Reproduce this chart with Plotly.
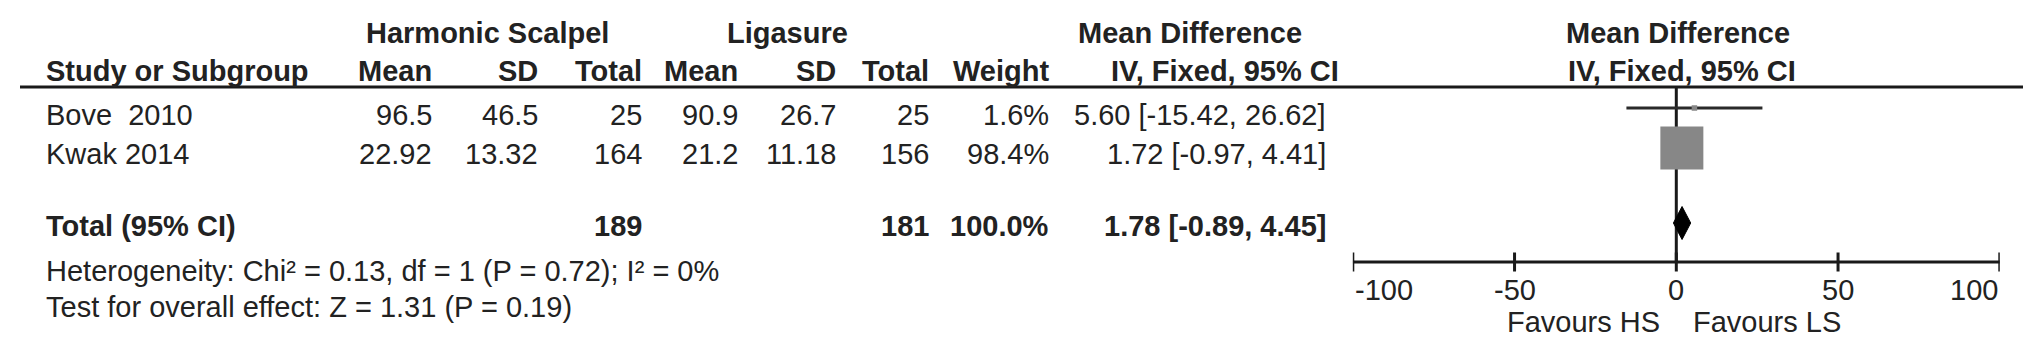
import plotly.graph_objects as go

# ---------------- data ----------------
studies = ["Bove  2010", "Kwak 2014"]
hs_mean = [96.5, 22.92]
hs_sd = [46.5, 13.32]
hs_total = [25, 164]
lg_mean = [90.9, 21.2]
lg_sd = [26.7, 11.18]
lg_total = [25, 156]
weights = [1.6, 98.4]
md = [5.60, 1.72]
ci_lo = [-15.42, -0.97]
ci_hi = [26.62, 4.41]

total_label = "Total (95% CI)"
total_hs = 189
total_lg = 181
total_weight = 100.0
total_md = 1.78
total_lo = -0.89
total_hi = 4.45

heterogeneity = "Heterogeneity: Chi² = 0.13, df = 1 (P = 0.72); I² = 0%"
overall = "Test for overall effect: Z = 1.31 (P = 0.19)"

x_ticks = [-100, -50, 0, 50, 100]
favours = ["Favours HS", "Favours LS"]

group_headers = ["Harmonic Scalpel", "Ligasure", "Mean Difference", "Mean Difference"]
col_headers = ["Study or Subgroup", "Mean", "SD", "Total", "Mean", "SD", "Total", "Weight",
               "IV, Fixed, 95% CI", "IV, Fixed, 95% CI"]

# ---------------- layout constants (pixels) ----------------
W, H = 2031, 338
FONT = "Liberation Sans, Arial, sans-serif"
FS = 29
TXT = "#222222"
AX_X0, AX_X1 = 1344.8, 1991.8          # pixel positions of -100 and 100

study_left = 36
num_right = [426, 532, 636, 732, 830, 923, 1043, 1320]
hdr2_right = [426, 532, 636, 732, 830, 923, 1043, 1333]
grp_center = [479, 779, 1182, 1670]
forest_hdr_center = 1674

y_hdr1, y_hdr2 = 25, 63
y_rule = 79
y_rows_text = [107, 146]
y_total_text = 218
y_het, y_test = 263, 299
y_rows_mark = [100, 140]
y_total_mark = 215
y_axis = 254
tick_half = 9.5
y_ticklab = 282
y_fav = 314
diamond_h = 33
max_square = 43

fig = go.Figure()

# zero line
fig.add_trace(go.Scatter(x=[0, 0], y=[y_rule, y_axis], mode="lines",
                         line=dict(color="#1a1a1a", width=3), hoverinfo="skip"))
# CI lines
for lo, hi, y in zip(ci_lo, ci_hi, y_rows_mark):
    fig.add_trace(go.Scatter(x=[lo, hi], y=[y, y], mode="lines",
                             line=dict(color="#2a2a2a", width=3), hoverinfo="skip"))
# squares (area proportional to weight)
wmax = max(weights)
sizes = [max_square * (w / wmax) ** 0.5 for w in weights]
fig.add_trace(go.Scatter(x=md, y=y_rows_mark, mode="markers",
                         marker=dict(symbol="square", size=sizes, color="#878787", opacity=1,
                                     line=dict(width=0)), hoverinfo="skip"))
# diamond
fig.add_trace(go.Scatter(
    x=[total_lo, total_md, total_hi, total_md, total_lo],
    y=[y_total_mark, y_total_mark - diamond_h / 2, y_total_mark, y_total_mark + diamond_h / 2, y_total_mark],
    mode="lines", fill="toself", fillcolor="#000000", line=dict(color="#000000", width=1),
    hoverinfo="skip"))
# axis line
fig.add_trace(go.Scatter(x=[x_ticks[0], x_ticks[-1]], y=[y_axis, y_axis], mode="lines",
                         line=dict(color="#1a1a1a", width=3), hoverinfo="skip"))
# ticks
tx, ty = [], []
for t in x_ticks:
    tx += [t, t, None]
    ty += [y_axis - tick_half, y_axis + tick_half, None]
fig.add_trace(go.Scatter(x=tx, y=ty, mode="lines", line=dict(color="#1a1a1a", width=3),
                         hoverinfo="skip"))

ann = []


def txt(x, y, s, anchor="left", bold=False, xref="paper", xshift=0):
    ann.append(dict(x=x / W if xref == "paper" else x, y=y, xref=xref, yref="y",
                    text=f"<b>{s}</b>" if bold else s, showarrow=False,
                    xanchor=anchor, yanchor="middle", xshift=xshift,
                    font=dict(family=FONT, size=FS, color=TXT)))


# header row 1
for c, g in zip(grp_center, group_headers):
    txt(c, y_hdr1, g, "center", True)
# header row 2
txt(study_left, y_hdr2, col_headers[0], "left", True)
for i, xr in enumerate(hdr2_right):
    txt(xr, y_hdr2, col_headers[i + 1], "right", True)
txt(forest_hdr_center, y_hdr2, col_headers[9], "center", True)

# study rows
for i, name in enumerate(studies):
    y = y_rows_text[i]
    vals = [str(hs_mean[i]), str(hs_sd[i]), str(hs_total[i]), str(lg_mean[i]), str(lg_sd[i]),
            str(lg_total[i]), f"{weights[i]:.1f}%",
            f"{md[i]:.2f} [{ci_lo[i]:.2f}, {ci_hi[i]:.2f}]"]
    txt(study_left, y, name, "left")
    for v, xr in zip(vals, num_right):
        txt(xr, y, v, "right")

# total row
txt(study_left, y_total_text, total_label, "left", True)
txt(num_right[2], y_total_text, str(total_hs), "right", True)
txt(num_right[5], y_total_text, str(total_lg), "right", True)
txt(num_right[6], y_total_text, f"{total_weight:.1f}%", "right", True)
txt(num_right[7], y_total_text, f"{total_md:.2f} [{total_lo:.2f}, {total_hi:.2f}]", "right", True)

txt(study_left, y_het, heterogeneity, "left")
txt(study_left, y_test, overall, "left")

# tick labels
for i, t in enumerate(x_ticks):
    a = "left" if i == 0 else ("right" if i == len(x_ticks) - 1 else "center")
    txt(t, y_ticklab, str(t), a, xref="x")
# favours
txt(0, y_fav, favours[0], "right", xref="x", xshift=-14)
txt(0, y_fav, favours[1], "left", xref="x", xshift=15)

fig.update_layout(
    width=W, height=H, margin=dict(l=0, r=0, t=0, b=0),
    paper_bgcolor="white", plot_bgcolor="white", showlegend=False,
    annotations=ann,
    shapes=[dict(type="line", xref="paper", yref="y", x0=12 / W, x1=2019 / W,
                 y0=y_rule, y1=y_rule, line=dict(color="#1a1a1a", width=3))],
    xaxis=dict(domain=[AX_X0 / W, AX_X1 / W], range=[x_ticks[0], x_ticks[-1]],
               visible=False, fixedrange=True),
    yaxis=dict(domain=[0, 1], range=[H, 0], visible=False, fixedrange=True),
)

fig.write_html("out.html")
